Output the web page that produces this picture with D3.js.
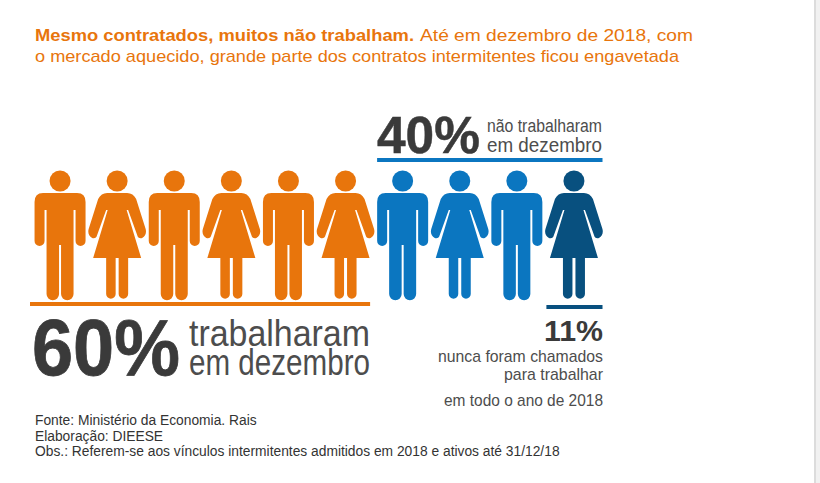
<!DOCTYPE html>
<html>
<head>
<meta charset="utf-8">
<script src="https://cdnjs.cloudflare.com/ajax/libs/d3/7.8.5/d3.min.js"></script>
<style>
html, body { margin: 0; padding: 0; background: #fff; overflow: hidden; }
text { font-family: "Liberation Sans", Arial, sans-serif; }
</style>
</head>
<body>
<div id="chart"></div>
<script>
// one figure per 10% of the contracts
var genders = ["m", "f", "m", "f", "m", "f", "m", "f", "m", "f"];
var groups = ["worked", "worked", "worked", "worked", "worked", "worked", "idle", "idle", "idle", "never"];
var workedShare = 60;
var idleShare = 40;
var neverShare = 11;
var footerLines = [
    "Fonte: Ministério da Economia. Rais",
    "Elaboração: DIEESE",
    "Obs.: Referem-se aos vínculos intermitentes admitidos em 2018 e ativos até 31/12/18"
];

var svgWidth = 820;
var svgHeight = 483;
var orange = "#e8750c";
var blue = "#0b76c0";
var navy = "#08507f";
var dark = "#3a3a3a";
var gray = "#4d4d4d";

var colors = { worked: orange, idle: blue, never: navy };

// figure outlines, origin at the middle of the shoulders
var shapes = {
    m: "M-17,0H17Q25.5,0 25.5,9V48A5,5 0 0 1 15.5,48V17H13.5V101A6.25,6.25 0 0 1 1,101V52H-1V101A6.25,6.25 0 0 1 -13.5,101V17H-15.5V48A5,5 0 0 1 -25.5,48V9Q-25.5,0 -17,0Z",
    f: "M-10,0H10Q16,0 19,6L28.5,36Q30,42 25,45Q21,46 20,42L11,17H9.5L24,65H11V101A4.75,4.75 0 0 1 1.5,101V65H-1.5V101A4.75,4.75 0 0 1 -11,101V65H-24L-9.5,17H-11L-20,42Q-21,46 -25,45Q-30,42 -28.5,36L-19,6Q-16,0 -10,0Z"
};

var svg = d3.select("#chart")
    .append("svg")
    .attr("width", svgWidth)
    .attr("height", svgHeight);

// shadow at the right edge of the page
svg.append("rect").attr("x", 814).attr("y", 0).attr("width", 2).attr("height", svgHeight).attr("fill", "#dcdcdc");
svg.append("rect").attr("x", 816).attr("y", 0).attr("width", 4).attr("height", svgHeight).attr("fill", "#f1f1f1");

// x in percentage points of the whole row of figures
var x = d3.scaleLinear().domain([0, 100]).range([31.5, 602.5]);

var people = genders.map(function(g, i) {
    return { gender: g, group: groups[i], pos: i * 10 + 5 };
});

var figures = svg.selectAll(".person")
    .data(people)
    .enter()
    .append("g")
    .attr("class", "person")
    .attr("transform", d => `translate(${x(d.pos)}, 193)`)
    .attr("fill", d => colors[d.group]);

figures.append("circle")
    .attr("cx", 0)
    .attr("cy", -12)
    .attr("r", 10.5);

figures.append("path")
    .attr("d", d => shapes[d.gender]);

// rules under and over the groups
function rule(from, to, y, color) {
    svg.append("rect")
        .attr("x", from)
        .attr("y", y)
        .attr("width", to - from)
        .attr("height", 4)
        .attr("fill", color);
}
rule(x(0) - 1.5, x(workedShare) - 4, 302, orange);
rule(x(workedShare) + 3, x(100), 158, blue);
rule(x(90) + 1, x(100), 305, navy);

function label(str, xPos, y, size, color, len, weight) {
    var t = svg.append("text")
        .attr("x", xPos)
        .attr("y", y)
        .attr("font-size", size)
        .attr("fill", color)
        .attr("font-weight", weight || "normal")
        .text(str);
    if (len) {
        t.attr("textLength", len).attr("lengthAdjust", "spacingAndGlyphs");
    }
    return t;
}

// title
label("Mesmo contratados, muitos não trabalham.", 35, 41, 17, orange, 379, "bold");
label("Até em dezembro de 2018, com", 420, 41, 17, orange, 273);
label("o mercado aquecido, grande parte dos contratos intermitentes ficou engavetada", 35, 62, 17, orange, 644);

// 40%
label(idleShare + "%", 377, 153, 52, dark, 103, "bold").attr("stroke", dark).attr("stroke-width", 0.5);
label("não trabalharam", 487, 131.5, 17.5, gray, 115);
label("em dezembro", 487, 152, 21, gray, 115);

// 60%
label(workedShare + "%", 32, 375, 80, dark, 148, "bold").attr("stroke", dark).attr("stroke-width", 0.8);
label("trabalharam", 189, 346, 37, gray, 181);
label("em dezembro", 189, 375, 37, gray, 181);

// 11%
label(neverShare + "%", 544, 341, 30, dark, 59, "bold");
label("nunca foram chamados", 438, 361.5, 17, gray, 165);
label("para trabalhar", 504, 380, 17, gray, 99);
label("em todo o ano de 2018", 444, 406, 17, gray, 159);

// footer
svg.selectAll(".footer")
    .data(footerLines)
    .enter()
    .append("text")
    .attr("class", "footer")
    .attr("x", 35)
    .attr("y", (d, i) => 425 + i * 15.5)
    .attr("font-size", 13.8)
    .attr("fill", "#333")
    .text(d => d);
</script>
</body>
</html>
